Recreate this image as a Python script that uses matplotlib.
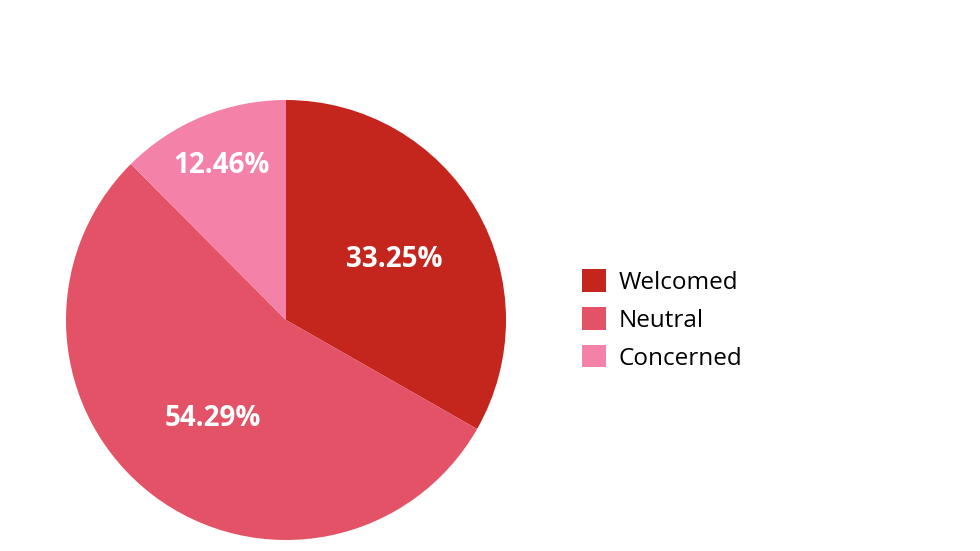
import numpy as np
from matplotlib import pyplot as plt
from matplotlib.patches import Patch

plt.rcParams['font.family'] = ['Open Sans', 'DejaVu Sans']

labels = ['Welcomed', 'Neutral', 'Concerned']
shares = [33.25, 54.29, 12.46]
colors = ['#C4261D', '#E35266', '#F482A8']
label_dist = [0.57, 0.55, 0.77]

fig = plt.figure(figsize=(9.8, 5.51), dpi=100)
ax = fig.add_axes([66 / 980, 11 / 551, 440 / 980, 440 / 551])

wedges, _ = ax.pie(shares, colors=colors, startangle=90, counterclock=False,
                   radius=1.0, wedgeprops=dict(linewidth=0))
ax.set_xlim(-1, 1)
ax.set_ylim(-1, 1)
ax.set_aspect('equal')
ax.axis('off')

for w, s, d in zip(wedges, shares, label_dist):
    mid = np.deg2rad((w.theta1 + w.theta2) / 2)
    ax.text(d * np.cos(mid), d * np.sin(mid) - 0.01, f'{s:.2f}%', color='white',
            fontsize=20, fontweight='bold', ha='center', va='center')

handles = [Patch(facecolor=c, edgecolor='none') for c in colors]
fig.legend(handles, labels, loc='center left', bbox_to_anchor=(560 / 980, 231 / 551),
           frameon=False, fontsize=17.5, handlelength=1.0, handleheight=1.05,
           handletextpad=0.5, labelspacing=0.5)

fig.savefig('out.png', dpi=100)
